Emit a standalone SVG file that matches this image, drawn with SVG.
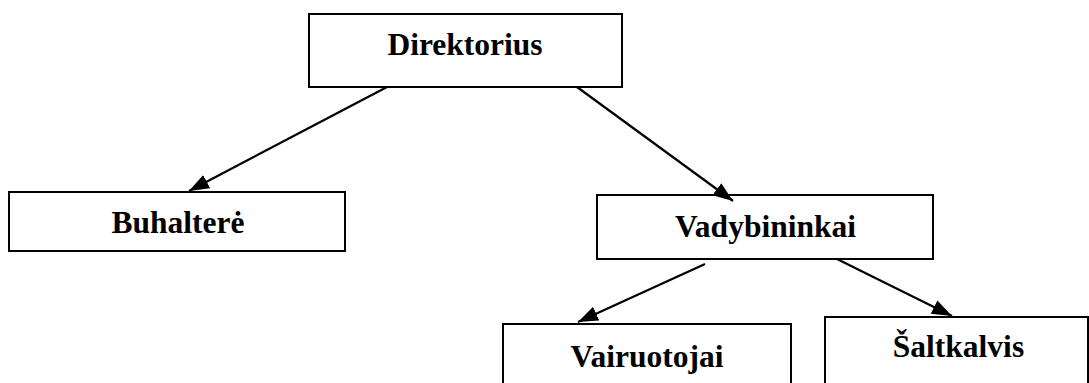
<svg xmlns="http://www.w3.org/2000/svg" width="1089" height="383" viewBox="0 0 1089 383">
  <style>
    .box { fill: #ffffff; stroke: #000000; stroke-width: 2; }
    .lbl { font-family: "Liberation Serif", "Times New Roman", serif; font-weight: bold; font-size: 31.5px; fill: #000000; text-anchor: middle; }
    .conn { stroke: #000000; stroke-width: 2.2; fill: none; marker-end: url(#arrow); }
  </style>
  <defs>
    <marker id="arrow" markerUnits="userSpaceOnUse" markerWidth="22" markerHeight="16" refX="20" refY="7.5" orient="auto">
      <path d="M0,0 L20,7.5 L0,15 z" fill="#000000"/>
    </marker>
  </defs>
  <rect width="1089" height="383" fill="#ffffff"/>
  <g id="node-direktorius">
    <rect class="box" x="309" y="14" width="313" height="73"/>
    <text class="lbl" x="465" y="55">Direktorius</text>
  </g>
  <g id="node-buhaltere">
    <rect class="box" x="9" y="192" width="336" height="59"/>
    <text class="lbl" x="178" y="233">Buhalterė</text>
  </g>
  <g id="node-vadybininkai">
    <rect class="box" x="597" y="195" width="336" height="64"/>
    <text class="lbl" x="765.5" y="237">Vadybininkai</text>
  </g>
  <g id="node-vairuotojai">
    <rect class="box" x="503" y="324" width="288" height="70"/>
    <text class="lbl" x="647" y="367">Vairuotojai</text>
  </g>
  <g id="node-saltkalvis">
    <rect class="box" x="825" y="317" width="263" height="77"/>
    <text class="lbl" x="958.5" y="357">Šaltkalvis</text>
  </g>
  <g id="connectors">
    <line class="conn" x1="387" y1="87" x2="189" y2="191"/>
    <line class="conn" x1="577" y1="87" x2="733" y2="201"/>
    <line class="conn" x1="705" y1="264" x2="578" y2="322"/>
    <line class="conn" x1="837" y1="259" x2="952" y2="316"/>
  </g>
</svg>
